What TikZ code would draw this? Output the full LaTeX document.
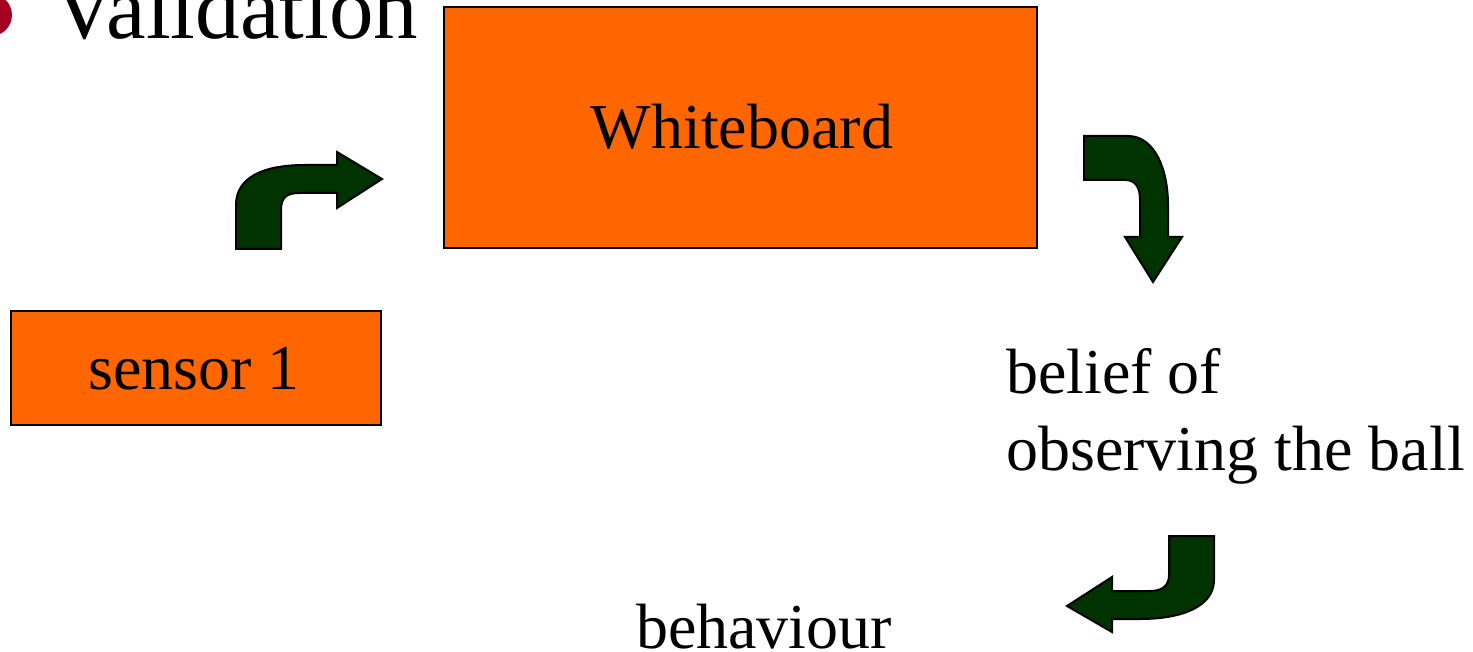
\documentclass[tikz,border=0pt]{standalone}
\usepackage{fontspec}
\setmainfont{Liberation Serif}
\begin{document}
\definecolor{boxorange}{HTML}{FF6600}
\definecolor{arrowgreen}{HTML}{003300}
\definecolor{bulletred}{HTML}{A50021}
\begin{tikzpicture}[x=1pt,y=-1pt,
  block/.style={draw=black,line width=2pt,fill=boxorange},
  bentarrow/.style={draw=black,line width=2pt,fill=arrowgreen,line join=miter},
  label/.style={inner sep=0pt,anchor=base west,font=\fontsize{64}{77}\selectfont},
  title/.style={inner sep=0pt,anchor=base west,font=\fontsize{89}{107}\selectfont}]
\useasboundingbox (0,0) rectangle (1473,652);
\clip (0,0) rectangle (1473,652);

% heading with its bullet
\fill[bulletred] (-9,15) circle[radius=21];
\node[title] (head) at (52,39) {Validation};

% boxes
\draw[block] (443.5,7.5) rectangle (1036.5,248);
\node[label,anchor=base] (wb) at (742,149) {Whiteboard};
\draw[block] (11,311.5) rectangle (381,425);
\node[label,anchor=base] (s1) at (194,389) {sensor 1};

% texts
\node[label] (belief) at (1006,393) {belief of};
\node[label] (obs) at (1006,470) {observing the ball};
\node[label,anchor=base] (beh) at (764,648) {behaviour};

% sensor -> whiteboard
\draw[bentarrow] (236,249) -- (236,205) .. controls (236,178) and (262,165) .. (305,165)
  -- (337,165) -- (337,152) -- (382,179) -- (337,208) -- (337,193) -- (300,193)
  .. controls (287,193) and (281,197) .. (281,210) -- (281,249) -- cycle;

% whiteboard -> belief
\draw[bentarrow] (1084,136) -- (1128,136) .. controls (1155,136) and (1168,170) .. (1168,205)
  -- (1168,237) -- (1182,237) -- (1153,282) -- (1125,237) -- (1140,237) -- (1140,200)
  .. controls (1140,188) and (1136,180) .. (1125,180) -- (1084,180) -- cycle;

% belief -> behaviour
\draw[bentarrow] (1169,536) -- (1214,536) -- (1214,580) .. controls (1214,605) and (1185,619) .. (1140,619)
  -- (1112,619) -- (1112,632) -- (1067,606) -- (1112,577) -- (1112,591) -- (1150,591)
  .. controls (1163,591) and (1169,585) .. (1169,575) -- cycle;
\end{tikzpicture}
\end{document}
